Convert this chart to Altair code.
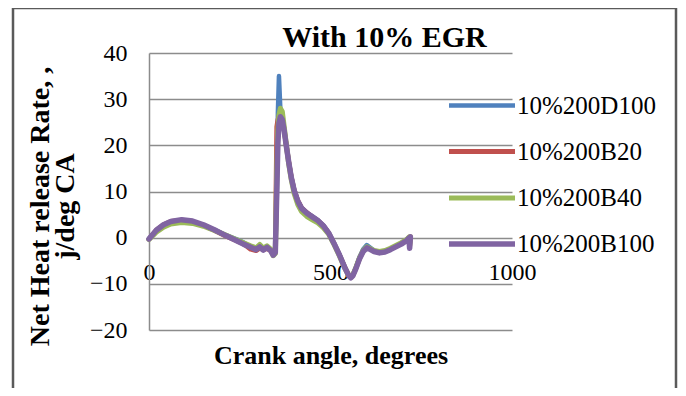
import altair as alt
import pandas as pd

# ---- data ----
crank = [0, 20, 40, 60, 90, 120, 150, 180, 210, 240, 260, 280, 295, 305, 315,
         325, 335, 342, 348, 352, 355, 358, 362, 367, 372, 378, 385, 392, 400, 410,
         420, 435, 450, 465, 480, 495, 510, 525, 540, 550, 556, 562, 570, 580, 590,
         600, 610, 620, 635, 650, 665, 680, 695, 710, 716, 718, 720]

d100 = [-0.2, 1.5, 2.7, 3.4, 3.8, 3.5, 2.7, 1.7, 0.6, -0.3, -1.0, -2.0, -2.4, -2.2, -2.5,
        -2.3, -2.6, -3.5, -3.0, 8.0, 27.0, 35.0, 27.5, 25.8, 23.6, 20.2, 16.5, 13.2, 10.4, 8.0,
        6.5, 5.4, 4.6, 3.8, 2.7, 1.1, -1.2, -3.7, -6.5, -8.0, -8.5, -8.0, -6.4, -4.2, -2.5,
        -1.6, -2.2, -2.8, -3.1, -2.9, -2.4, -1.8, -1.2, -0.5, 0.0, -1.8, 0.1]

b20 = [-0.3, 1.6, 2.8, 3.5, 3.8, 3.5, 2.7, 1.6, 0.4, -0.6, -1.3, -2.5, -2.8, -2.3, -2.6,
       -2.4, -2.7, -3.6, -2.8, 24.0, 25.5, 26.3, 26.6, 25.8, 23.5, 20.1, 16.4, 13.1, 10.3, 8.0,
       6.5, 5.4, 4.5, 3.7, 2.6, 1.0, -1.3, -3.8, -6.5, -8.1, -8.6, -8.1, -6.6, -4.5, -2.9,
       -2.1, -2.5, -2.9, -3.2, -3.0, -2.5, -1.9, -1.3, -0.5, 0.0, -2.0, 0.2]

b40 = [-0.4, 1.2, 2.3, 3.0, 3.3, 3.1, 2.5, 1.6, 0.6, -0.4, -1.1, -1.8, -2.2, -1.5, -2.3,
       -1.8, -2.5, -3.9, -3.4, 14.0, 23.0, 26.5, 28.0, 27.3, 24.2, 20.3, 16.0, 12.6, 9.6, 7.2,
       5.7, 4.6, 3.9, 3.2, 2.2, 0.8, -1.5, -4.0, -6.7, -8.2, -8.6, -8.0, -6.5, -4.4, -2.8,
       -2.0, -2.4, -2.8, -3.0, -2.8, -2.3, -1.7, -1.1, -0.4, 0.1, -1.6, 0.2]

b100 = [-0.3, 1.6, 2.8, 3.5, 3.9, 3.6, 2.8, 1.7, 0.5, -0.6, -1.4, -2.1, -2.6, -2.0, -2.7,
        -2.1, -2.8, -3.8, -3.2, 10.0, 20.5, 24.8, 26.2, 25.6, 23.4, 20.0, 16.3, 13.0, 10.2, 7.9,
        6.4, 5.3, 4.5, 3.7, 2.6, 1.0, -1.3, -3.8, -6.6, -8.2, -8.7, -8.2, -6.7, -4.6, -3.0,
        -2.2, -2.6, -3.0, -3.3, -3.1, -2.6, -2.0, -1.4, -0.6, -0.1, -2.3, 0.2]

series_names = ["10%200D100", "10%200B20", "10%200B40", "10%200B100"]
series_colors = ["#4F81BD", "#C0504D", "#9BBB59", "#8064A2"]
series_widths = [4.5, 5.5, 5.5, 6.5]
x_ticks = [0, 500, 1000]
y_ticks = [-20, -10, 0, 10, 20, 30, 40]

rows = []
for name, vals in zip(series_names, [d100, b20, b40, b100]):
    for a, v in zip(crank, vals):
        rows.append({"series": name, "angle": a, "rate": v})
df = pd.DataFrame(rows)

FONT = "Liberation Serif"

lines = alt.Chart(df).mark_line(strokeCap="round", strokeJoin="round").encode(
    x=alt.X("angle:Q",
            scale=alt.Scale(domain=[0, 1000], nice=False, zero=False),
            axis=alt.Axis(values=x_ticks, format="d", grid=False, domain=False, ticks=False,
                          tickSize=0, offset=-92, labelPadding=22, labelFontSize=24,
                          labelFont=FONT, labelColor="#000", labelFlush=False,
                          title="Crank angle, degrees", titleFont=FONT, titleFontSize=26,
                          titleFontWeight="bold", titleColor="#000", titleX=181.5, titleY=125,
                          titleAlign="center", titleBaseline="alphabetic")),
    y=alt.Y("rate:Q",
            scale=alt.Scale(domain=[-20, 40], nice=False),
            axis=alt.Axis(values=y_ticks, format="d", grid=True, gridColor="#8c8c8c",
                          gridWidth=1.5, domain=True, domainColor="#8c8c8c", domainWidth=1.5,
                          ticks=False, tickSize=0, labelPadding=22, labelFontSize=24,
                          labelFont=FONT, labelColor="#000",
                          title=["Net Heat release Rate, ,", "j/deg CA"], titleFont=FONT,
                          titleFontSize=28, titleFontWeight="bold", titleColor="#000",
                          titleX=-109, titleY=153, titleAngle=270, titleAlign="center",
                          titleBaseline="middle", titleLineHeight=25)),
    color=alt.Color("series:N",
                    scale=alt.Scale(domain=series_names, range=series_colors),
                    legend=alt.Legend(orient="none", legendX=319, legendY=39, title=None,
                                      direction="vertical", symbolType="M-3,0H3",
                                      symbolSize=484, symbolStrokeWidth=5.5,
                                      labelFont=FONT, labelFontSize=25, labelColor="#000",
                                      labelOffset=21, rowPadding=19, padding=0,
                                      labelLimit=300)),
    strokeWidth=alt.StrokeWidth("series:N",
                                scale=alt.Scale(domain=series_names, range=series_widths),
                                legend=None),
)

frame = alt.Chart(pd.DataFrame({"k": [0]})).mark_rect(
    filled=False, stroke="#5a5a5a", strokeWidth=2.5
).encode(
    x=alt.value(-136), x2=alt.value(527), y=alt.value(-45), y2=alt.value(345)
)

chart = alt.layer(frame, lines).properties(
    width=363,
    height=277,
    autosize=alt.AutoSizeParams(type="none"),
    padding={"left": 141, "top": 45, "right": 166, "bottom": 58},
    title=alt.TitleParams("With 10% EGR", font=FONT, fontSize=30, fontWeight="bold",
                          color="#000", anchor="middle", frame="group", dx=54,
                          baseline="alphabetic", offset=-70),
    background="white",
).configure_view(strokeWidth=0)

chart.save("out.html", embed_options={"renderer": "svg", "actions": False})
